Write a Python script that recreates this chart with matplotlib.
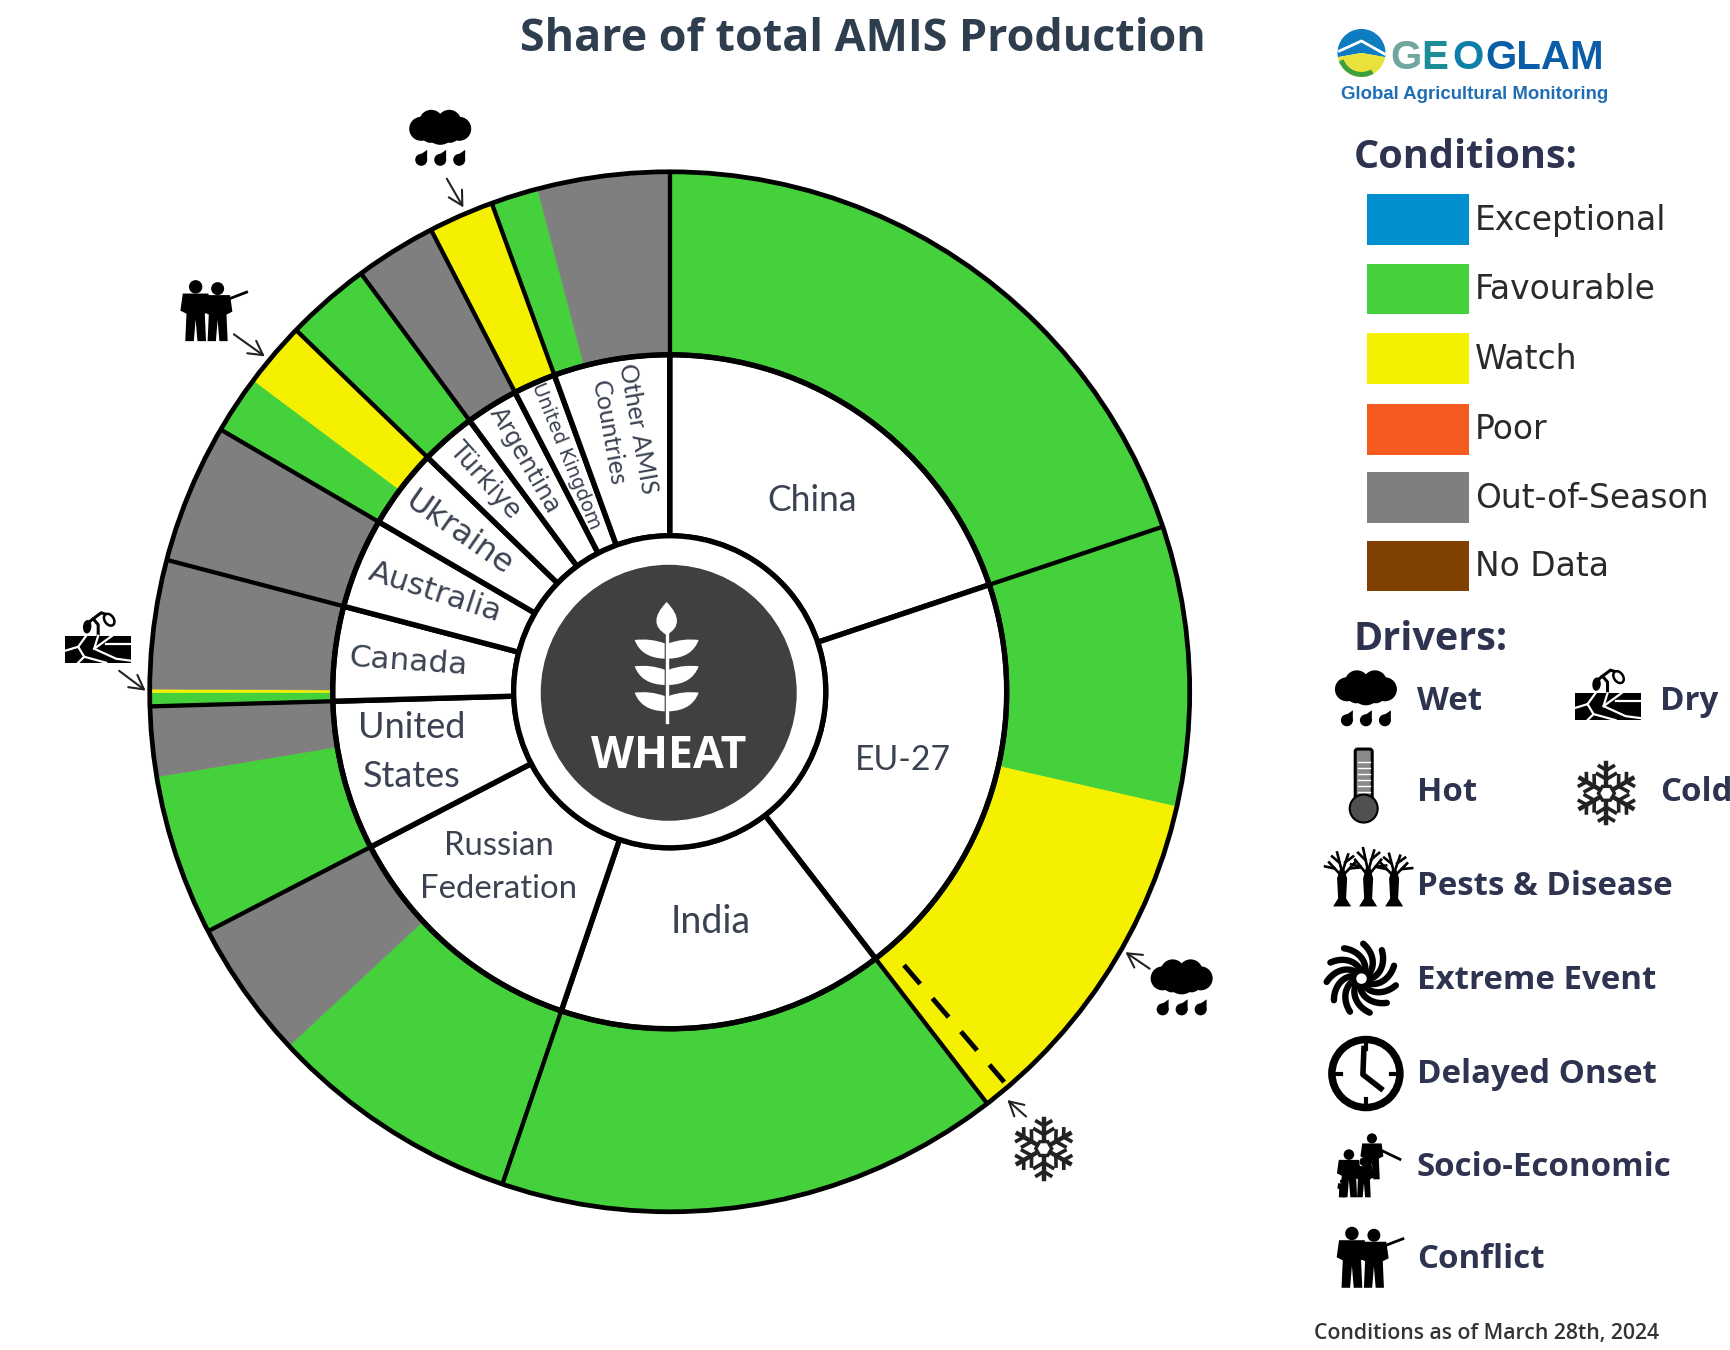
import matplotlib

matplotlib.use("Agg")

import matplotlib.pyplot as plt
import numpy as np
from matplotlib.patches import Circle, Ellipse, FancyBboxPatch, PathPatch, Polygon, Rectangle, Wedge
from matplotlib.path import Path

# share of total AMIS production per country (percent)
countries = ["China", "EU-27", "India", "Russian Federation", "United States", "Canada",
             "Australia", "Ukraine", "Türkiye", "Argentina", "United Kingdom", "Other AMIS Countries"]
country_share = [19.86, 19.69, 15.67, 12.17, 7.17, 4.53, 4.33, 3.83, 2.64, 2.53, 2.03, 5.56]

# outer ring: crop condition segments, same order round the circle
segment_share = [19.86, 8.69, 11.00, 15.67, 7.86, 4.31, 5.00, 2.17, 0.42, 0.11, 4.00,
                 4.33, 1.81, 2.02, 2.64, 2.53, 2.03, 1.47, 4.09]
segment_cond = ["Favourable", "Favourable", "Watch", "Favourable", "Favourable", "Out-of-Season",
                "Favourable", "Out-of-Season", "Favourable", "Watch", "Out-of-Season",
                "Out-of-Season", "Favourable", "Watch", "Favourable", "Out-of-Season",
                "Watch", "Favourable", "Out-of-Season"]

cond_names = ["Exceptional", "Favourable", "Watch", "Poor", "Out-of-Season", "No Data"]
cond_colors = ["#0090D0", "#44D13B", "#F5F000", "#F55A1E", "#7F7F7F", "#7F4000"]
COND = dict(zip(cond_names, cond_colors))

W, H = 1730, 1350
S = W / 1568
NAVY = "#2E3350"
SLATE = "#3B4252"


def P(x, y):
    # reference position to axis units
    return x * S, H - y * S


def T(x, y):
    # text sits a little high with va=center
    return P(x, y + 2.5)


fig = plt.figure(figsize=(17.3, 13.5), dpi=100)
ax = fig.add_axes([0, 0, 1, 1])

CX, CY = P(607, 627)
R_OUT, R_MID, R_IN, R_DISC = 520, 337, 156, 128

outer, _ = ax.pie(segment_share, colors=[COND[c] for c in segment_cond], radius=R_OUT, center=(CX, CY),
                  startangle=90, counterclock=False, frame=True,
                  wedgeprops={"width": R_OUT - R_MID, "linewidth": 0.4})
for w in outer:
    w.set_edgecolor(w.get_facecolor())
ax.pie(country_share, colors=["white"] * len(countries), radius=R_MID, center=(CX, CY),
       startangle=90, counterclock=False, frame=True,
       wedgeprops={"width": R_MID - R_IN, "linewidth": 3.9, "edgecolor": "black"})
ax.set_xlim(0, W)
ax.set_ylim(0, H)
ax.axis("off")

# black separators across the outer ring, only between countries
for b in np.cumsum(country_share):
    t = np.radians(b / sum(country_share) * 360)
    ax.plot([CX + R_MID * np.sin(t), CX + R_OUT * np.sin(t)],
            [CY + R_MID * np.cos(t), CY + R_OUT * np.cos(t)], color="black", lw=3.1, zorder=5,
            solid_capstyle="butt")

ax.add_patch(Circle((CX, CY), R_OUT, fc="none", ec="black", lw=3.4, zorder=6))
ax.add_patch(Circle((CX, CY), R_MID, fc="none", ec="black", lw=3.6, zorder=6))
ax.add_patch(Circle((CX, CY), R_IN, fc="white", ec="black", lw=3.8, zorder=6))
ax.add_patch(Circle((CX - 1, CY - 1), R_DISC, fc="#404040", ec="none", zorder=7))

# frost limit inside the EU-27 watch segment
t = np.radians(139.4)
ax.plot([CX + 360 * np.sin(t), CX + 514 * np.sin(t)], [CY + 360 * np.cos(t), CY + 514 * np.cos(t)],
        color="black", lw=3.5, ls=(0, (5.1, 3.9)), zorder=5)


def Z4(zx, zy):
    return 500 + zx / 3, H - (520 + zy / 3)


def leaf(zy, side):
    m = lambda x: 500 + side * x
    pts = [Z4(m(6), zy + 12), Z4(m(50), zy - 4), Z4(m(96), zy + 2), Z4(m(76), zy + 56), Z4(m(6), zy + 58),
           Z4(m(6), zy + 12)]
    codes = [Path.MOVETO, Path.CURVE3, Path.CURVE3, Path.CURVE3, Path.CURVE3, Path.CLOSEPOLY]
    ax.add_patch(PathPatch(Path(pts, codes), fc="white", ec="none", zorder=8))


for zy in [358, 437, 516]:
    leaf(zy, -1)
    leaf(zy, 1)
ax.plot(*zip(Z4(500, 330), Z4(500, 605)), color="white", lw=2.4, zorder=8)
top = [Z4(500, 246), Z4(562, 310), Z4(500, 345), Z4(438, 310), Z4(500, 246)]
ax.add_patch(PathPatch(Path(top, [Path.MOVETO, Path.CURVE3, Path.CURVE3, Path.CURVE3, Path.CURVE3]),
                       fc="white", ec="none", zorder=8))
ax.text(*T(606, 683), "WHEAT", color="white", fontsize=32, fontweight="bold", family="Open Sans",
        ha="center", va="center", zorder=9)

# ring labels: text, position, size, rotation, family, line spacing
LAB = [
    ("China", 736, 451, 25.6, 0, "Lato", 1.2),
    ("EU-27", 818, 686, 24.3, 0, "Lato", 1.2),
    ("India", 644, 833, 27, 0, "Lato", 1.2),
    ("Russian\nFederation", 452, 784, 23.7, 0, "Lato", 1.53),
    ("United\nStates", 373, 679, 26, 0, "Lato", 1.58),
    ("Canada", 370, 597, 22.5, -4, "DejaVu Sans", 1.2),
    ("Australia", 394, 534, 22.5, -18, "DejaVu Sans", 1.2),
    ("Ukraine", 416, 481, 23, -35, "DejaVu Sans", 1.2),
    ("Türkiye", 439, 433, 18.5, -48, "DejaVu Sans", 1.2),
    ("Argentina", 476, 415, 17.5, -60, "DejaVu Sans", 1.2),
    ("United Kingdom", 513, 411, 14, -68, "DejaVu Sans", 1.2),
    ("Other AMIS\nCountries", 565, 388, 18, -80, "Lato", 1.35),
]
for txt, x, y, fs, rot, fam, sp in LAB:
    ax.text(*T(x, y), txt, fontsize=fs, rotation=rot, family=fam, color=SLATE, ha="center", va="center",
            rotation_mode="anchor", linespacing=sp, zorder=9)

ax.text(*T(782, 33), "Share of total AMIS Production", fontsize=32.3, fontweight="bold", family="Open Sans",
        color="#2F3E4E", ha="center", va="center")


# --- driver icons, units are output pixels around a centre ---
def cloud(x, y, s=1.0):
    for u, v, r in [(-19, 8, 12), (-9, 15, 12), (9, 15, 12), (19, 8, 12), (0, 7, 15), (-10, 3, 9), (10, 3, 9)]:
        ax.add_patch(Circle((x + u * s, y + v * s), r * s, fc="black", ec="none", zorder=9))
    for u in [-19, 0, 19]:
        ax.add_patch(Circle((x + u * s, y - 23 * s), 6 * s, fc="black", ec="none", zorder=9))
        ax.add_patch(Polygon([(x + (u - 5.5) * s, y - 21 * s), (x + (u + 6) * s, y - 13 * s), (x + (u + 5.8) * s, y - 24 * s)],
                             fc="black", ec="none", zorder=9))


def dry(x, y, s=1.0):
    ax.add_patch(Rectangle((x - 33 * s, y - 14 * s), 66 * s, 27 * s, fc="black", ec="none", zorder=9))
    cracks = [[(-33, -2), (-20, 2), (-12, 13)], [(-20, 2), (-14, -8), (-20, -14)], [(-14, -8), (8, -14)],
              [(0, 13), (-4, 0), (18, -10), (33, -12)], [(-4, 0), (14, 13)], [(8, 5), (33, 5)]]
    for c in cracks:
        ax.plot([x + u * s for u, _ in c], [y + v * s for _, v in c], color="white", lw=1.6, zorder=10)
    ax.plot([x, x, x - 5 * s, x - 10 * s], [y + 13 * s, y + 24 * s, y + 30 * s, y + 26 * s], color="black", lw=2.2, zorder=9)
    ax.plot([x - 5 * s, x + 3 * s, x + 9 * s], [y + 30 * s, y + 36 * s, y + 34 * s], color="black", lw=2.2, zorder=9)
    ax.add_patch(Ellipse((x + 11 * s, y + 29 * s), 9 * s, 13 * s, angle=35, fc="white", ec="black", lw=1.8, zorder=9))
    ax.add_patch(Ellipse((x - 11 * s, y + 22 * s), 7 * s, 12 * s, angle=-5, fc="black", ec="black", lw=1, zorder=9))


def thermo(x, y):
    ax.add_patch(FancyBboxPatch((x - 6, y - 18), 12, 52, boxstyle="round,pad=2.5", fc="#8A8A8A", ec="black", lw=2.2, zorder=9))
    ax.add_patch(Circle((x, y - 23), 14, fc="#505050", ec="black", lw=1.5, zorder=10))
    for v in range(-6, 30, 6):
        ax.plot([x - 6, x + 6], [y + v, y + v], color="white", lw=1, zorder=10)


def snow(x, y, s=1.0):
    for a in np.radians(np.arange(0, 360, 60) + 90):
        d = np.array([np.cos(a), np.sin(a)])
        n = np.array([-d[1], d[0]])
        ax.plot([x + 6 * s * d[0], x + 30 * s * d[0]], [y + 6 * s * d[1], y + 30 * s * d[1]], color="#222222", lw=3.2, zorder=9)
        for f, b in [(14, 9), (23, 7)]:
            p = np.array([x, y]) + f * s * d
            for sgn in [-1, 1]:
                q = p + b * s * (0.6 * d + sgn * n)
                ax.plot([p[0], q[0]], [p[1], q[1]], color="#222222", lw=2.6, zorder=9)
    ang = np.radians(np.arange(0, 360, 60))
    ax.add_patch(Polygon(np.c_[x + 8 * s * np.cos(ang), y + 8 * s * np.sin(ang)], fc="white", ec="#222222", lw=2.4, zorder=9))


def trees(x, y):
    for u, hgt in [(-26, 1.0), (0, 1.15), (26, 0.95)]:
        ax.add_patch(Polygon([(x + u - 9, y - 26), (x + u - 4, y - 18), (x + u - 5, y + 2), (x + u - 2, y + 12 * hgt), (x + u + 2, y + 12 * hgt),
                              (x + u + 5, y + 2), (x + u + 4, y - 18), (x + u + 9, y - 26)], fc="black", ec="none", zorder=9))
        for (a, b), (c, d) in [((0, 4), (-13, 18)), ((0, 4), (13, 18)), ((0, 8), (-5, 28)), ((0, 8), (6, 26)),
                               ((-8, 12), (-17, 14)), ((8, 12), (18, 13)), ((-3, 18), (-10, 24)), ((3, 18), (11, 24))]:
            ax.plot([x + u + a, x + u + c], [y + b * hgt, y + d * hgt], color="black", lw=1.9, zorder=9)


def swirl(x, y):
    for a0 in np.arange(0, 360, 360 / 11):
        tt = np.linspace(0, 1, 20)
        rr = 9 + 26 * tt
        aa = np.radians(a0) + 0.95 * tt
        ax.plot(x + rr * np.cos(aa), y + rr * np.sin(aa), color="black", lw=4.6, solid_capstyle="round", zorder=9)
    ax.add_patch(Circle((x, y), 7, fc="white", ec="black", lw=2.5, zorder=10))


def clock(x, y):
    ax.add_patch(Circle((x, y), 34, fc="white", ec="black", lw=5.4, zorder=9))
    for a in np.radians([0, 90, 180, 270]):
        ax.plot([x + 25 * np.cos(a), x + 31 * np.cos(a)], [y + 25 * np.sin(a), y + 31 * np.sin(a)], color="black", lw=3, zorder=10)
    ax.plot([x - 2, x - 3, x + 15], [y + 25, y - 1, y - 15], color="black", lw=4, zorder=10, solid_joinstyle="round")


def person(x, y, h, arm=None):
    # y is the foot level
    ax.add_patch(Circle((x, y + h * 0.89), h * 0.11, fc="black", ec="none", zorder=9))
    body = [(x - h * .25, y + h * .5), (x - h * .21, y + h * .78), (x + h * .21, y + h * .78), (x + h * .25, y + h * .5),
            (x + h * .15, y + h * .45), (x + h * .17, y), (x + h * .03, y), (x, y + h * .36), (x - h * .03, y),
            (x - h * .17, y), (x - h * .15, y + h * .45)]
    ax.add_patch(Polygon(body, fc="black", ec="none", zorder=9))
    if arm is not None:
        ax.plot([x + h * .1, x + arm[0]], [y + h * .68, y + arm[1]], color="black", lw=2, zorder=9)


def conflict(x, y, s=1.0):
    person(x - 14 * s, y - 30 * s, 61 * s)
    person(x + 8 * s, y - 30 * s, 59 * s, arm=(29 * s, 49 * s))


def family_icon(x, y):
    person(x + 6, y - 12, 46, arm=(28, 20))
    person(x - 17, y - 30, 48)
    person(x - 2, y - 30, 40)
    person(x - 24, y - 30, 18)


def pointer(x0, y0, x1, y1):
    ax.annotate("", xy=P(x1, y1), xytext=P(x0, y0), zorder=9,
                arrowprops={"arrowstyle": "->,head_length=1.0,head_width=0.55", "color": "#222222", "lw": 1.5,
                            "shrinkA": 0, "shrinkB": 0})


# drivers marked on the wheel
cloud(*P(399, 124))
pointer(405, 162, 420, 188)
conflict(*P(190, 282))
pointer(212, 303, 240, 323)
dry(*P(89, 588))
pointer(108, 608, 132, 626)
cloud(*P(1071, 894))
pointer(1042, 878, 1020, 863)
snow(*P(946, 1041))
pointer(930, 1012, 913, 997)

# conditions legend
ax.text(*T(1227, 140), "Conditions:", fontsize=28.5, fontweight="bold", family="Open Sans", color=NAVY, ha="left", va="center")
sw_tops = [176, 239, 302, 366, 428, 490]
for name, col, y in zip(cond_names, cond_colors, sw_tops):
    x0, y1 = P(1239, y + 46)
    x1, y0 = P(1331, y)
    ax.add_patch(Rectangle((x0, y1), x1 - x0, y0 - y1, fc=col, ec="none"))
    ax.text(*T(1337, y + 21), name, fontsize=23.7, family="DejaVu Sans", color="#2A2A2A", ha="left", va="center")

ax.text(*T(1227, 577), "Drivers:", fontsize=28.5, fontweight="bold", family="Open Sans", color=NAVY, ha="left", va="center")
drivers = [("Wet", 1284, 633), ("Dry", 1505, 633), ("Hot", 1284, 716), ("Cold", 1505, 716),
           ("Pests & Disease", 1284, 801), ("Extreme Event", 1284, 886), ("Delayed Onset", 1284, 971),
           ("Socio-Economic", 1284, 1056), ("Conflict", 1284, 1139)]
for name, x, y in drivers:
    ax.text(*T(x, y), name, fontsize=23.8, fontweight="bold", family="Open Sans", color=NAVY, ha="left", va="center")
cloud(*P(1238, 632))
dry(*P(1457, 640))
thermo(*P(1236, 712))
snow(*P(1456, 719))
trees(*P(1240, 798))
swirl(*P(1234, 887))
clock(*P(1238, 973))
family_icon(*P(1238, 1058))
conflict(*P(1238, 1140))

ax.text(*T(1191, 1206), "Conditions as of March 28th, 2024", fontsize=15.3, family="Open Sans", fontweight="semibold",
        color="#333333", ha="left", va="center")

# GEOGLAM logo
lx, ly = P(1234, 48)
ax.add_patch(Wedge((lx, ly), 24, -10, 190, fc="#0F7CC2", ec="none"))
ax.add_patch(Wedge((lx, ly), 24, 190, 350, fc="#E9E23A", ec="none"))
ax.add_patch(Wedge((lx, ly), 24, 200, 300, width=5, fc="#3E9F3E", ec="none"))
ax.plot([lx - 22, lx, lx + 23], [ly + 2, ly + 12, ly - 1], color="white", lw=2)
for txt, x, col in [("G", 1260, "#6FA6A0"), ("E", 1288, "#1C8C96"), ("O", 1316, "#0E7FA8"), ("GLAM", 1346, "#0B5DA8")]:
    ax.text(*T(x, 50), txt, fontsize=29, fontweight="bold", family="Liberation Sans", color=col, ha="left", va="center")
ax.text(*T(1215, 83), "Global Agricultural Monitoring", fontsize=13.4, fontweight="bold",
        family="Liberation Sans", color="#1F6DB5", ha="left", va="center")

fig.savefig("out.png", dpi=100, facecolor="white")
